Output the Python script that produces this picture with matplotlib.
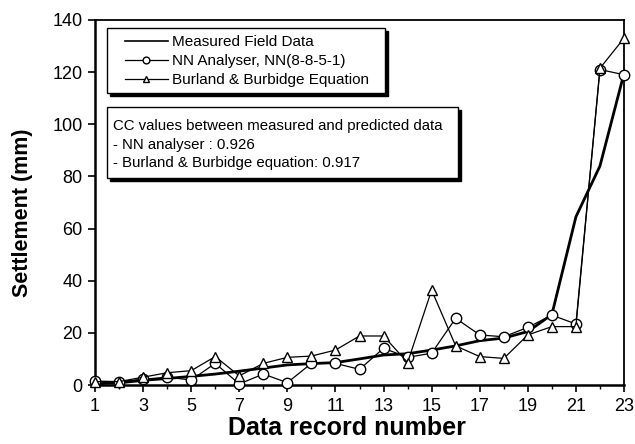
import numpy as np
import matplotlib.pyplot as plt
from matplotlib.patches import Rectangle

plt.rcParams['font.family'] = ['Liberation Sans', 'DejaVu Sans']

record = list(range(1, 24))
measured = [0.5, 0.8, 1.8, 2.5, 3.3, 4.2, 5.3, 6.5, 7.7, 8.2, 8.6, 10.0, 11.5, 12.0,
            13.4, 15.0, 17.0, 18.0, 20.5, 27.0, 64.5, 84.0, 119.5]
nn = [1.5, 1.3, 2.2, 3.0, 1.9, 8.3, 0.4, 4.2, 0.9, 8.3, 8.3, 6.0, 14.1, 10.6,
      12.2, 25.6, 19.2, 18.5, 22.1, 26.8, 23.4, 121.0, 119.0]
bb = [1.3, 1.3, 3.0, 4.7, 5.5, 10.9, 3.5, 8.3, 10.6, 11.1, 13.4, 18.8, 18.8, 8.6,
      36.4, 15.0, 10.9, 10.2, 19.2, 22.4, 22.4, 121.5, 133.0]
cc_lines = ["CC values between measured and predicted data",
            "- NN analyser : 0.926",
            "- Burland & Burbidge equation: 0.917"]

W, H = 635, 444
fig = plt.figure(figsize=(W / 100, H / 100), dpi=100)
ax = fig.add_axes([95 / W, 1 - 385 / H, (624 - 95) / W, (385 - 20) / H])

ax.plot(record, measured, color='black', lw=2.0, label='Measured Field Data', zorder=3,
        clip_on=False)
ax.plot(record, nn, color='black', lw=0.9, marker='o', ms=7.5, mfc='white', mec='black',
        mew=1.0, label='NN Analyser, NN(8-8-5-1)', zorder=4, clip_on=False)
ax.plot(record, bb, color='black', lw=0.9, marker='^', ms=7.5, mfc='white', mec='black',
        mew=1.0, label='Burland & Burbidge Equation', zorder=4, clip_on=False)

ax.set_xlim(1, 23)
ax.set_ylim(0, 140)
ax.set_xticks(range(1, 24, 2))
ax.set_xticks(range(2, 23, 2), minor=True)
ax.set_yticks(range(0, 141, 20))
ax.tick_params(axis='both', which='major', direction='out', length=5, width=1.2,
               labelsize=13, pad=4)
ax.tick_params(axis='x', which='minor', direction='out', length=3, width=1.0)
for s in ['left', 'bottom']:
    ax.spines[s].set_linewidth(1.8)
for s in ['top', 'right']:
    ax.spines[s].set_linewidth(1.3)

ax.set_xlabel('Data record number', fontsize=18, fontweight='bold')
ax.set_ylabel('Settlement (mm)', fontsize=15.5, fontweight='bold')
ax.xaxis.set_label_coords((347 - 95) / 529, -0.085)
ax.yaxis.set_label_coords((33 - 95) / 529, (385 - 213) / 365)


def shadow_box(x0, y0, x1, y1):
    # white box with solid black drop shadow, pixel coords from top-left
    ax.add_patch(Rectangle(((x0 + 3) / W, 1 - (y1 + 3) / H),
                           (x1 - x0) / W, (y1 - y0) / H,
                           transform=fig.transFigure, facecolor='black',
                           edgecolor='black', zorder=5, clip_on=False))
    ax.add_patch(Rectangle((x0 / W, 1 - y1 / H), (x1 - x0) / W, (y1 - y0) / H,
                           transform=fig.transFigure, facecolor='white',
                           edgecolor='black', lw=1.0, zorder=6, clip_on=False))


shadow_box(107, 28, 385, 93)
leg = ax.legend(loc='center left', bbox_to_anchor=(125 / W, 1 - 61 / H),
                bbox_transform=fig.transFigure, borderaxespad=0, borderpad=0,
                fontsize=11, handlelength=2.8, handletextpad=0.3, labelspacing=0.32,
                markerscale=0.65, frameon=False)
leg.set_zorder(7)
leg.get_lines()[0].set_linewidth(1.2)

shadow_box(107, 107, 458, 178)
for i, t in enumerate(cc_lines):
    ax.text(113 / W, 1 - (126 + 18.5 * i) / H, t, fontsize=10.8, va='center',
            ha='left', zorder=7, transform=fig.transFigure)

fig.savefig('out.png', dpi=100)
